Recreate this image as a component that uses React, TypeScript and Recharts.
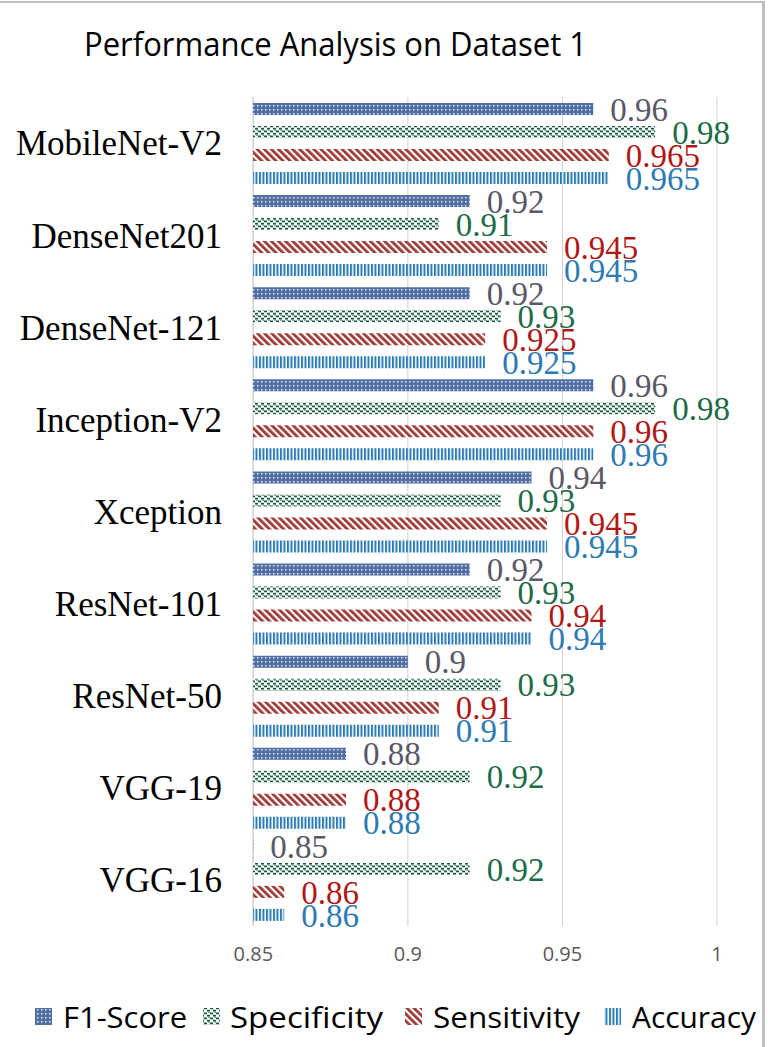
import React from 'react';
import { BarChart, Bar, XAxis, YAxis, CartesianGrid, LabelList, Legend } from 'recharts';

const categories = ['MobileNet-V2', 'DenseNet201', 'DenseNet-121', 'Inception-V2', 'Xception', 'ResNet-101', 'ResNet-50', 'VGG-19', 'VGG-16'];
const f1Score = [0.96, 0.92, 0.92, 0.96, 0.94, 0.92, 0.9, 0.88, 0.85];
const specificity = [0.98, 0.91, 0.93, 0.98, 0.93, 0.93, 0.93, 0.92, 0.92];
const sensitivity = [0.965, 0.945, 0.925, 0.96, 0.945, 0.94, 0.91, 0.88, 0.86];
const accuracy = [0.965, 0.945, 0.925, 0.96, 0.945, 0.94, 0.91, 0.88, 0.86];
const xTicks = [0.85, 0.9, 0.95, 1];

const data = categories.map((name, i) => ({
  name,
  f1: f1Score[i],
  spec: specificity[i],
  sens: sensitivity[i],
  acc: accuracy[i],
}));

const series = [
  { key: 'f1', name: 'F1-Score', fill: 'url(#patF1)', label: '#5a5868' },
  { key: 'spec', name: 'Specificity', fill: 'url(#patSpec)', label: '#1e6b47' },
  { key: 'sens', name: 'Sensitivity', fill: 'url(#patSens)', label: '#b01818' },
  { key: 'acc', name: 'Accuracy', fill: 'url(#patAcc)', label: '#2e7bb3' },
];

// legend layout: [swatch x, text x, text width]
const legendSlots = [
  [35, 63, 124],
  [203, 230, 153],
  [405, 433, 147],
  [604, 632, 124],
];

const Patterns = () => (
  <svg width={0} height={0} style={{ position: 'absolute' }}>
    <defs>
      <pattern id="patF1" width="4" height="4" patternUnits="userSpaceOnUse">
        <rect width="4" height="4" fill="#5270a3" />
        <rect x="1" y="1" width="1.5" height="1.5" fill="#dfe6f2" />
      </pattern>
      <pattern id="patSpec" width="6" height="5" patternUnits="userSpaceOnUse">
        <rect width="6" height="5" fill="#ffffff" />
        <rect x="0" y="0.5" width="3" height="1.8" fill="#175c3a" />
        <rect x="3" y="2.8" width="3" height="1.8" fill="#175c3a" />
        <rect x="4.5" y="0" width="1" height="1" fill="#175c3a" />
      </pattern>
      <pattern id="patSens" width="5" height="5" patternUnits="userSpaceOnUse" patternTransform="rotate(-45)">
        <rect width="5" height="5" fill="#ffffff" />
        <rect width="2.8" height="5" fill="#9c3a38" />
      </pattern>
      <pattern id="patAcc" width="3.5" height="4" patternUnits="userSpaceOnUse">
        <rect width="3.5" height="4" fill="#ffffff" />
        <rect width="2" height="4" fill="#2a7bb8" />
      </pattern>
    </defs>
  </svg>
);

const LegendContent = () => (
  <svg width={768} height={46} style={{ display: 'block', overflow: 'visible' }}>
    {series.map((s, i) => {
      const [sx, tx, tw] = legendSlots[i];
      return (
        <g key={s.key}>
          <rect x={sx} y={16} width={17} height={17} fill={s.fill} />
          <text
            x={tx}
            y={36}
            fontFamily='"Open Sans", sans-serif'
            fontSize={30}
            fill="#000"
            textLength={tw}
            lengthAdjust="spacingAndGlyphs"
          >
            {s.name}
          </text>
        </g>
      );
    })}
  </svg>
);

export default function App() {
  return (
    <div style={{ position: 'absolute', left: 0, top: 0, width: 768, height: 1047, background: '#fff' }}>
      <Patterns />
      <div style={{ position: 'absolute', left: 0, top: 1, width: 765, height: 2, background: '#bfbfbf' }} />
      <div style={{ position: 'absolute', left: 762, top: 1, width: 3, height: 1046, background: '#bfbfbf' }} />
      <svg style={{ position: 'absolute', left: 0, top: 0 }} width={768} height={80}>
        <text x={84} y={56} fontFamily='"Open Sans", sans-serif' fontSize={32} fill="#000" textLength={503} lengthAdjust="spacingAndGlyphs">
          Performance Analysis on Dataset 1
        </text>
      </svg>
      <BarChart
        width={768}
        height={1047}
        data={data}
        layout="vertical"
        margin={{ top: 97, right: 51, left: 0, bottom: 9 }}
        barSize={12}
        barGap={11}
      >
        <CartesianGrid horizontal={false} vertical={true} stroke="#d0d0d0" strokeWidth={1} />
        <XAxis
          type="number"
          domain={[0.8499, 1]}
          ticks={xTicks}
          allowDataOverflow
          axisLine={false}
          tickLine={false}
          tickSize={0}
          tickMargin={21}
          height={66}
          interval={0}
          tick={{ fill: '#595959', fontSize: 20, fontFamily: '"Open Sans", sans-serif' }}
        />
        <YAxis
          type="category"
          dataKey="name"
          width={253}
          axisLine={false}
          tickLine={false}
          tickSize={0}
          tickMargin={31}
          interval={0}
          tick={{ fill: '#000', fontSize: 35, fontFamily: '"Liberation Serif", serif' }}
        />
        <Legend verticalAlign="bottom" width={768} wrapperStyle={{ left: 0 }} content={<LegendContent />} />
        {series.map((s) => (
          <Bar key={s.key} dataKey={s.key} name={s.name} fill={s.fill} isAnimationActive={false}>
            <LabelList
              dataKey={s.key}
              position="right"
              offset={17}
              fill={s.label}
              style={{ fontSize: 33, fontFamily: '"Liberation Serif", serif' }}
            />
          </Bar>
        ))}
      </BarChart>
    </div>
  );
}
